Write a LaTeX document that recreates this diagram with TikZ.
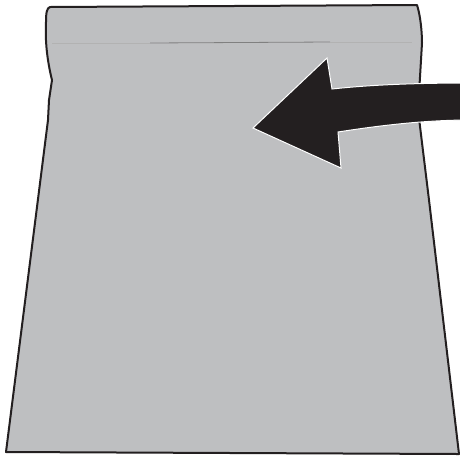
\documentclass[tikz,border=0pt]{standalone}
\usepackage{tikz}
\definecolor{sheetgray}{RGB}{190,191,193}
\definecolor{ink}{RGB}{35,31,32}
\tikzset{
  sheet/.style={draw=ink,fill=sheetgray,line width=2pt,line join=round},
  fold/.style={draw=black!50,line width=0.8pt},
  arr/.style={draw=white,fill=ink,line width=1pt,line join=miter},
}
\begin{document}
\begin{tikzpicture}[x=1pt,y=-1pt]
  \useasboundingbox (0,0) rectangle (460,459);
  \clip (0,0) rectangle (460,459);
  \draw[sheet] (50,7) -- (417,5) .. controls (420,14) and (422,30) .. (422,43)
    -- (420,77) -- (418,110) -- (429,200) -- (459,454) -- (6,452) -- (48,120)
    -- (49,100) -- (52,80) .. controls (47,60) and (45,40) .. (46,22)
    .. controls (46,12) and (47,8) .. (50,7) -- cycle;
  \draw[fold,draw=black!30] (52,43) -- (150,43);
  \draw[fold] (150,43) -- (330,42);
  \draw[fold,draw=black!30] (330,42) -- (412,42);
  \draw[arr] (470,83) .. controls (400,83) and (360,86) .. (332,89) -- (327,58)
    -- (253,128) -- (341,168) -- (338,132)
    .. controls (370,127) and (420,120) .. (470,120) -- cycle;
\end{tikzpicture}
\end{document}
